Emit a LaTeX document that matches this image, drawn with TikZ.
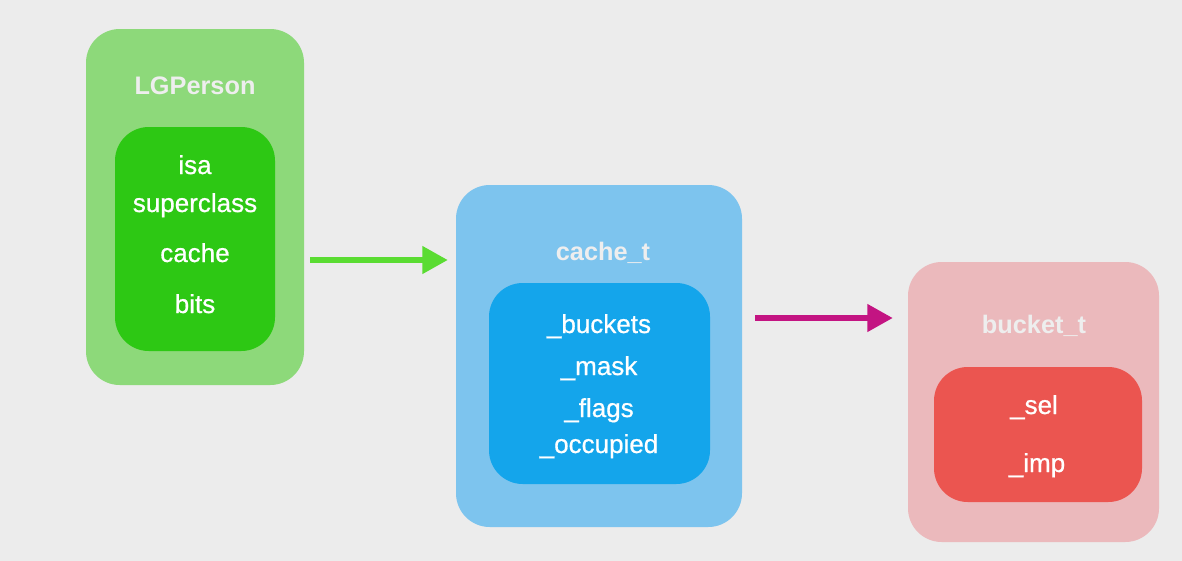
\documentclass[tikz,border=0pt]{standalone}
\usepackage{fontspec}
\setmainfont{Liberation Sans}
\newfontfamily\fieldfont[FakeBold=0.7]{Liberation Sans}
\usetikzlibrary{arrows.meta}

\definecolor{bggray}{HTML}{ECECEC}
\definecolor{greenout}{HTML}{8DD97A}
\definecolor{greenin}{HTML}{2DC814}
\definecolor{blueout}{HTML}{7DC4EE}
\definecolor{bluein}{HTML}{14A5EB}
\definecolor{redout}{HTML}{EBB9BC}
\definecolor{redin}{HTML}{EB5550}
\definecolor{greenarrow}{HTML}{5ADC32}
\definecolor{magentaarrow}{HTML}{C31482}
\definecolor{titlegray}{HTML}{EEEEEE}

\newcommand\pxu{0.025cm}

\begin{document}
\begin{tikzpicture}[x=0.025cm,y=-0.025cm,
    box/.style={rounded corners=24pt, inner sep=0pt},
    title/.style={anchor=base, text=titlegray, font=\bfseries\fontsize{18}{22}\selectfont},
    field/.style={anchor=base, text=white, font=\fieldfont\fontsize{18.5}{22}\selectfont},
    link/.style={line width=3.6pt, -{Triangle[length=18pt,width=19pt]}}]
    \useasboundingbox (0,0) rectangle (1182,560);
    \fill [bggray] (-6,-6) rectangle (1188,566);

    % LGPerson
    \node [box, fill=greenout, minimum width=218*\pxu, minimum height=356*\pxu] (gOut) at (195,207) {};
    \node [box, fill=greenin, minimum width=160*\pxu, minimum height=224*\pxu] (gIn) at (195,239) {};
    \node [title] (gTitle) at (195,94) {LGPerson};
    \node [field] (isa) at (195,174) {isa};
    \node [field] (super) at (195,212) {superclass};
    \node [field] (cache) at (195,262) {cache};
    \node [field] (bits) at (195,313) {bits};

    % cache_t
    \node [box, fill=blueout, minimum width=286*\pxu, minimum height=342*\pxu] (bOut) at (599,356) {};
    \node [box, fill=bluein, minimum width=221*\pxu, minimum height=201*\pxu] (bIn) at (599.5,383.5) {};
    \node [title] (bTitle) at (603,260) {cache\_t};
    \node [field] (buckets) at (599,333) {\_buckets};
    \node [field] (mask) at (599,375) {\_mask};
    \node [field] (flags) at (599,417) {\_flags};
    \node [field] (occupied) at (599,453) {\_occupied};

    % bucket_t
    \node [box, fill=redout, minimum width=251*\pxu, minimum height=280*\pxu] (rOut) at (1033.5,402) {};
    \node [box, fill=redin, minimum width=208*\pxu, minimum height=135*\pxu] (rIn) at (1038,434.5) {};
    \node [title] (rTitle) at (1034,333) {bucket\_t};
    \node [field] (sel) at (1034,414) {\_sel};
    \node [field] (imp) at (1037,472) {\_imp};

    % arrows
    \draw [link, greenarrow] ([shift={(6,53)}]gOut.east) -- ([shift={(-8,-96)}]bOut.west);
    \draw [link, magentaarrow] ([shift={(13,-38)}]bOut.east) -- ([shift={(-15,-84)}]rOut.west);
\end{tikzpicture}
\end{document}
